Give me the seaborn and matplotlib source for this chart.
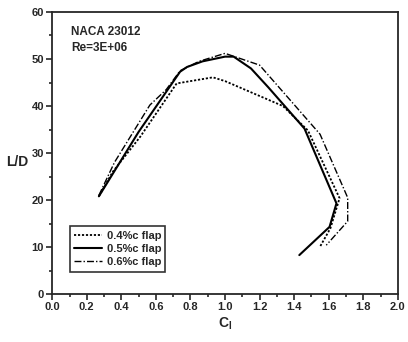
import matplotlib
matplotlib.use('Agg')
import matplotlib.pyplot as plt
import seaborn as sns
import pandas as pd
from matplotlib.ticker import MultipleLocator

# 0.4%c flap
cl_04 = [0.27, 0.35, 0.51, 0.72, 0.93, 1.00, 1.335, 1.48, 1.663, 1.61, 1.55]
ld_04 = [20.8, 26.0, 33.5, 44.8, 46.1, 45.3, 40.0, 34.8, 20.4, 14.0, 10.1]

# 0.5%c flap
cl_05 = [0.27, 0.50, 0.74, 0.78, 0.87, 1.00, 1.05, 1.15, 1.25, 1.46, 1.645, 1.605, 1.43]
ld_05 = [20.8, 34.5, 47.3, 48.3, 49.5, 50.5, 50.5, 48.0, 44.0, 35.2, 19.3, 14.3, 8.3]

# 0.6%c flap
cl_06 = [0.27, 0.36, 0.565, 0.66, 0.74, 0.85, 1.00, 1.20, 1.55, 1.71, 1.71, 1.586]
ld_06 = [21.0, 28.0, 40.2, 43.5, 47.5, 49.5, 51.2, 48.7, 34.0, 20.5, 15.5, 10.4]

labels = ['0.4%c flap', '0.5%c flap', '0.6%c flap']

sns.set_style('ticks')
plt.rcParams['font.family'] = ['Liberation Sans', 'DejaVu Sans']
plt.rcParams['font.weight'] = 'bold'

fig = plt.figure(figsize=(4.08, 3.42), dpi=100)
ax = fig.add_axes([0.128, 0.14, 0.847, 0.825])

series = [(cl_04, ld_04, (0, (1.2, 1.0)), 1.3),
          (cl_05, ld_05, '-', 1.5),
          (cl_06, ld_06, (0, (5, 1.5, 1, 1.5)), 1.0)]
for (x, y, ls, lw), lab in zip(series, labels):
    df = pd.DataFrame({'Cl': x, 'LD': y})
    sns.lineplot(data=df, x='Cl', y='LD', sort=False, estimator=None,
                 color='black', linestyle=ls, linewidth=lw, label=lab, ax=ax)

ax.set_xlim(0, 2.0)
ax.set_ylim(0, 60)
ax.xaxis.set_major_locator(MultipleLocator(0.2))
ax.xaxis.set_minor_locator(MultipleLocator(0.1))
ax.yaxis.set_major_locator(MultipleLocator(10))
ax.yaxis.set_minor_locator(MultipleLocator(5))
ax.xaxis.set_major_formatter(matplotlib.ticker.FormatStrFormatter('%.1f'))
ax.tick_params(which='both', direction='out', width=1.2, labelsize=8, pad=2)
ax.tick_params(which='major', length=4)
ax.tick_params(which='minor', length=2)
for s in ax.spines.values():
    s.set_visible(True)
    s.set_linewidth(1.3)

ax.set_xlabel('C$_\\mathregular{l}$', fontsize=10, fontweight='bold', labelpad=2)
ax.set_ylabel('L/D', fontsize=10, fontweight='bold', rotation=0,
              ha='right', va='center')
ax.yaxis.set_label_coords(-0.068, 0.47)

ax.text(0.055, 0.95, 'NACA 23012\nRe=3E+06', transform=ax.transAxes,
        fontsize=8.5, fontweight='bold', va='top', ha='left', linespacing=1.45)

leg = ax.legend(loc='lower left', bbox_to_anchor=(0.035, 0.06), fontsize=8,
                frameon=True, fancybox=False, edgecolor='black',
                handlelength=2.5, borderpad=0.4, labelspacing=0.3,
                handletextpad=0.4)
leg.get_frame().set_linewidth(1.2)

fig.savefig('out.png', dpi=100)
